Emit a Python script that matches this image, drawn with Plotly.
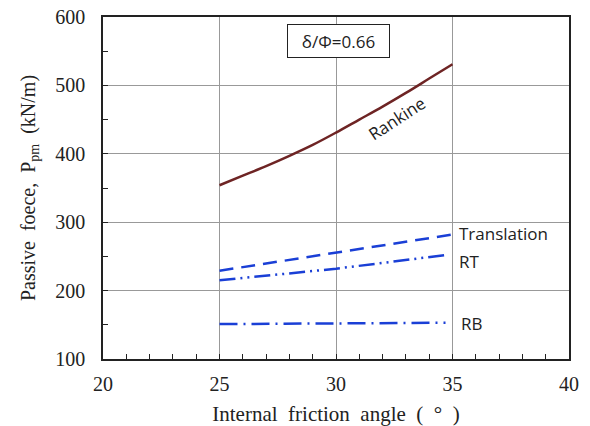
import plotly.graph_objects as go

angle_rankine = [25, 26, 27, 28, 29, 30, 31, 32, 33, 34, 35]
rankine = [354, 368, 382, 397, 413, 431, 450, 469, 489, 510, 531]
angle_trans = [25, 30, 35]
translation = [229, 255, 282]
angle_rt = [25, 30, 34.7]
rt = [215, 232, 252]
angle_rb = [25, 30, 34.7]
rb = [151, 152, 153]

blue = "#1a3fd6"
fig = go.Figure()
fig.add_trace(go.Scatter(x=angle_rankine, y=rankine, mode="lines", line=dict(color="#6e2424", width=2.5), line_shape="spline"))
fig.add_trace(go.Scatter(x=angle_trans, y=translation, mode="lines", line=dict(color=blue, width=2.5, dash="14px,8px")))
fig.add_trace(go.Scatter(x=angle_rt, y=rt, mode="lines", line=dict(color=blue, width=2.5, dash="16px,5px,2px,5px,2px,5px")))
fig.add_trace(go.Scatter(x=angle_rb, y=rb, mode="lines", line=dict(color=blue, width=2.5, dash="18px,6px,2px,6px")))

serif = "Liberation Serif"
fig.update_layout(
    width=590, height=426, showlegend=False,
    margin=dict(l=103, r=21, t=17, b=67),
    plot_bgcolor="white", paper_bgcolor="white",
    font=dict(family=serif, size=20, color="#222"),
    xaxis=dict(range=[20, 40], dtick=5, showgrid=True, gridcolor="#999", gridwidth=1,
               showline=True, linecolor="#222", linewidth=1.5, mirror=True, automargin=False,
               ticks="inside", ticklen=5, tickcolor="#222", zeroline=False,
               ticklabelstandoff=6, tickfont=dict(family=serif, size=20, color="#222"),
               minor=dict(dtick=1, ticks="inside", ticklen=5, tickcolor="#222", showgrid=False),
               title=dict(text="Internal  friction  angle  (  °  )", standoff=16, font=dict(family=serif, size=21))),
    yaxis=dict(range=[100, 600], dtick=100, showgrid=True, gridcolor="#999", gridwidth=1,
               showline=True, linecolor="#222", linewidth=1.5, mirror=True, automargin=False,
               ticks="inside", ticklen=5, tickcolor="#222", zeroline=False,
               ticklabelstandoff=12, tickfont=dict(family=serif, size=20, color="#222"),
               minor=dict(dtick=50, ticks="inside", ticklen=5, tickcolor="#222", showgrid=False),
               title=dict(text="Passive  foece,  P<sub>pm</sub>  (kN/m)", standoff=14, font=dict(family=serif, size=20))),
)

sans = "Open Sans"
fig.add_annotation(x=27.9, y=590, xref="x", yref="y", text="δ/Φ=0.66", showarrow=False,
                   font=dict(family=sans, size=17, color="#222"), bordercolor="#222", borderwidth=1,
                   borderpad=0, width=101, height=32, bgcolor="white", xanchor="left", yanchor="top")
fig.add_annotation(x=32.6, y=452, text="Rankine", showarrow=False, textangle=-33,
                   font=dict(family=sans, size=17, color="#222"))
fig.add_annotation(x=35.2, y=283, text="Translation", showarrow=False, xanchor="left",
                   font=dict(family=sans, size=17, color="#222"))
fig.add_annotation(x=35.2, y=243, text="RT", showarrow=False, xanchor="left",
                   font=dict(family=sans, size=17, color="#222"))
fig.add_annotation(x=35.3, y=152, text="RB", showarrow=False, xanchor="left",
                   font=dict(family=sans, size=17, color="#222"))

fig.write_html("out.html")
